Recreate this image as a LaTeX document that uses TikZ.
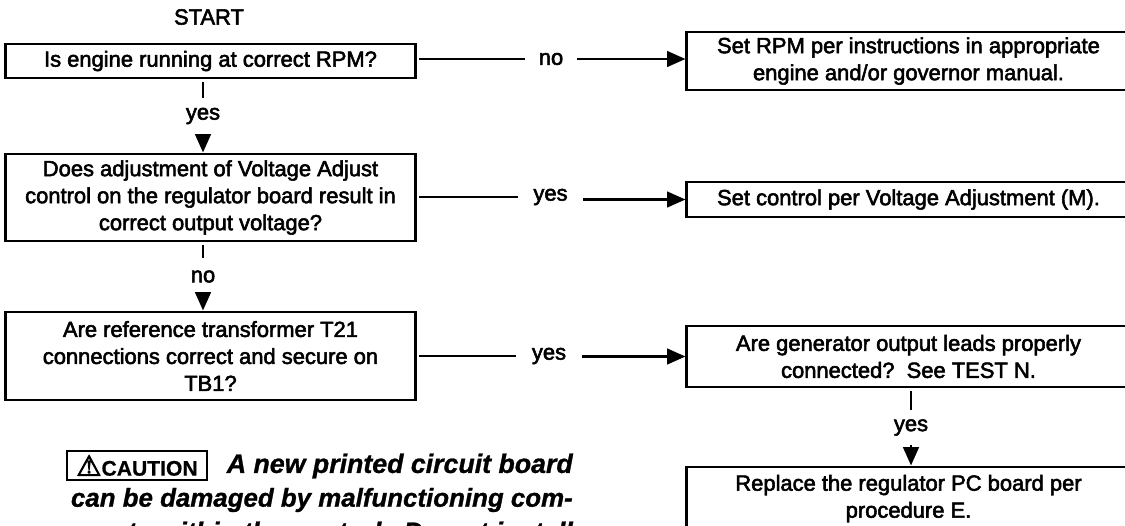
\documentclass[tikz,border=0pt]{standalone}
\usepackage{fontspec}
\usepackage{tikz}
\usetikzlibrary{arrows.meta}
\setmainfont{Liberation Sans}[BoldItalicFeatures={FakeBold=1}, BoldFeatures={FakeBold=0.6}]
\newfontfamily\boxfont{Liberation Sans}[FakeBold=2.5]
\newfontfamily\symfont{DejaVu Sans}[FakeBold=3]
\tikzset{
  flowbox/.style={draw, line width=2.1pt, align=center, inner sep=0pt, font=\boxfont\fontsize{15.6}{19.2}\selectfont},
  leftbox/.style={flowbox, minimum width=10.225cm},
  rightbox/.style={flowbox, minimum width=11.075cm},
  lbl/.style={inner sep=0pt, font=\boxfont\fontsize{15.6}{19.2}\selectfont},
  vlbl/.style={lbl, minimum height=0.875cm},
  link/.style={line width=1.9pt},
  arrowlink/.style={link, -{Triangle[length=13pt,width=11pt]}},
  cautline/.style={anchor=east, inner sep=0pt, font=\bfseries\itshape\fontsize{18.4}{22}\selectfont}
}
\begin{document}
\begin{tikzpicture}[x=0.025cm, y=-0.025cm]
\useasboundingbox (0,0) rectangle (1125,526);
% --- Left Column ---
\node[lbl] (start) at (209,17) {START};
\node[leftbox, minimum height=0.85cm] (q1) at (210.5,61) {Is engine running at correct RPM?};
\node[leftbox, minimum height=2.175cm] (q2) at (210.5,197.5) {Does adjustment of Voltage Adjust\\control on the regulator board result in\\correct output voltage?};
\node[leftbox, minimum height=2.2cm] (q3) at (210.5,356) {Are reference transformer T21\\connections correct and secure on\\TB1?};
\node[vlbl] (yes1) at (203,116) {yes};
\node[vlbl, minimum height=0.925cm] (no2) at (203,276.5) {no};
\draw[link, shorten <=2pt] (yes1 |- q1.south) -- (yes1.north);
\draw[arrowlink] (yes1.south) -- (yes1 |- q2.north);
\draw[link, shorten <=2pt] (no2 |- q2.south) -- (no2.north);
\draw[arrowlink] (no2.south) -- (no2 |- q3.north);
% --- Right Column ---
\node[rightbox, minimum height=1.45cm] (a1) at (908.5,61) {Set RPM per instructions in appropriate\\engine and/or governor manual.};
\node[rightbox, minimum height=0.875cm] (a2) at (908.5,199.5) {Set control per Voltage Adjustment (M).};
\node[rightbox, minimum height=1.525cm] (a3) at (908.5,356.5) {Are generator output leads properly\\connected?\ \ See TEST N.};
\node[rightbox, minimum height=1.575cm] (a4) at (908.5,498.5) {Replace the regulator PC board per\\procedure E.};
\node[vlbl] (yes4) at (911,427.5) {yes};
\draw[link, shorten <=2pt] (yes4 |- a3.south) -- (yes4.north);
\draw[arrowlink] (yes4.south) -- (yes4 |- a4.north);
% --- Middle Labels ---
\node[lbl, minimum width=1.3cm] (no1) at (551,59) {no};
\node[lbl, minimum width=1.625cm] (yes2) at (550.5,197) {yes};
\node[lbl, minimum width=1.65cm] (yes3) at (549,356) {yes};
\draw[link, shorten <=2pt] (q1.east |- no1.west) -- (no1.west);
\draw[arrowlink] (no1.east) -- (no1.east -| a1.west);
\draw[link, shorten <=2pt] (q2.east |- yes2.west) -- (yes2.west);
\draw[arrowlink] (yes2.east |- a2.west) -- (a2.west);
\draw[link, shorten <=2pt] (q3.east |- yes3.west) -- (yes3.west);
\draw[arrowlink] (yes3.east |- a3.west) -- (a3.west);
% --- Caution Note ---
\node[draw, line width=2.1pt, inner sep=0pt, minimum width=3.5cm, minimum height=0.725cm, font=\bfseries\fontsize{15}{18}\selectfont] (caution) at (137,465.5) {{\symfont\fontsize{20}{18}\selectfont ⚠}CAUTION};
\node[cautline, font=\bfseries\itshape\fontsize{19}{22}\selectfont] (caut1) at (573,466) {A new printed circuit board};
\node[cautline] (caut2) at (573,500) {can be damaged by malfunctioning com-};
\node[cautline, font=\bfseries\itshape\fontsize{19}{22}\selectfont] (caut3) at (573,534) {ponents within the control.\ \ Do not install};
\end{tikzpicture}
\end{document}
